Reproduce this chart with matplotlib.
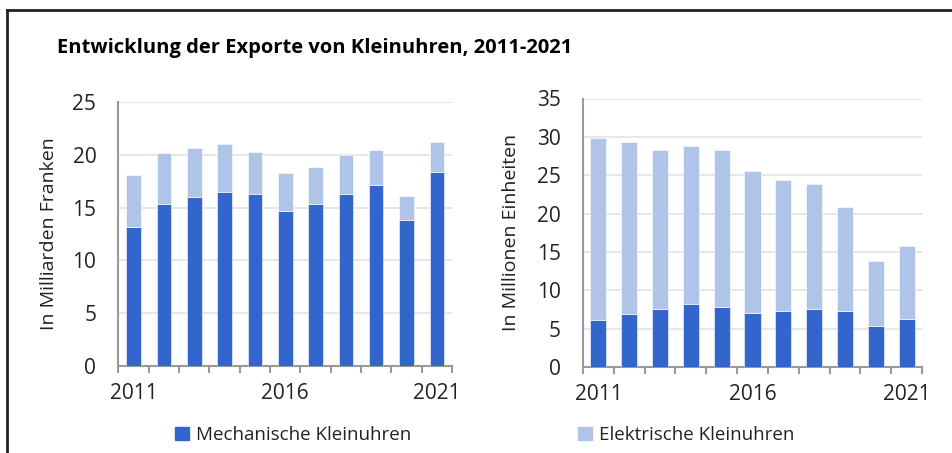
import matplotlib.pyplot as plt
from matplotlib.lines import Line2D
from matplotlib.patches import Patch
import numpy as np

plt.rcParams['font.family'] = ['Open Sans', 'DejaVu Sans']

years = [2011, 2012, 2013, 2014, 2015, 2016, 2017, 2018, 2019, 2020, 2021]
tick_years = ['2011', '2016', '2021']

# Exporte in Milliarden Franken
wert_mech = [13.2, 15.3, 16.0, 16.5, 16.3, 14.7, 15.3, 16.3, 17.1, 13.8, 18.4]
wert_total = [18.1, 20.2, 20.6, 21.0, 20.3, 18.3, 18.8, 20.0, 20.5, 16.1, 21.2]

# Exporte in Millionen Einheiten
stk_mech = [6.1, 6.9, 7.5, 8.2, 7.8, 7.0, 7.3, 7.5, 7.3, 5.4, 6.3]
stk_total = [29.9, 29.3, 28.3, 28.8, 28.3, 25.5, 24.4, 23.9, 20.8, 13.8, 15.8]

wert_elek = [t - m for t, m in zip(wert_total, wert_mech)]
stk_elek = [t - m for t, m in zip(stk_total, stk_mech)]

dark = '#3366cc'
light = '#b0c4ea'
grid_col = '#e3e3e3'
axis_col = '#999999'
txt_col = '#222222'

fig = plt.figure(figsize=(9.53, 4.53), dpi=100)

# Rahmen links und oben
fig.add_artist(Line2D([7.5 / 953, 7.5 / 953], [0, 1 - 10 / 453], color=txt_col, lw=2))
fig.add_artist(Line2D([7.5 / 953, 1], [1 - 10 / 453, 1 - 10 / 453], color=txt_col, lw=2))

fig.text(57 / 953, 1 - 48 / 453, 'Entwicklung der Exporte von Kleinuhren, 2011-2021',
         fontsize=14.5, fontweight='bold', va='center', ha='left', color='black')


def draw(ax, mech, elek, ymax, ystep, ylabel, width, labelpad):
    x = np.arange(len(years))
    ax.bar(x, mech, width=width, color=dark, edgecolor='white', linewidth=0.4, zorder=3)
    ax.bar(x, elek, bottom=mech, width=width, color=light, edgecolor='white', linewidth=0.4, zorder=3)
    ax.set_xlim(-0.5, len(years) - 0.5)
    ax.set_ylim(0, ymax)
    ax.set_yticks(np.arange(0, ymax + 0.1, ystep))
    ax.yaxis.grid(True, color=grid_col, lw=1.2, zorder=0)
    ax.set_axisbelow(True)
    for s in ['top', 'right']:
        ax.spines[s].set_visible(False)
    for s in ['left', 'bottom']:
        ax.spines[s].set_color(axis_col)
        ax.spines[s].set_linewidth(1.5)
    ax.set_xticks(np.arange(-0.5, len(years), 1.0))
    ax.set_xticklabels([])
    ax.tick_params(axis='x', which='major', length=5, width=1.5, color=axis_col, direction='out')
    ax.set_xticks([0, 5, 10], minor=True)
    ax.set_xticklabels(tick_years, minor=True)
    ax.tick_params(axis='x', which='minor', length=0, pad=12, labelsize=15, labelcolor=txt_col)
    ax.tick_params(axis='y', length=0, labelsize=15, labelcolor=txt_col, pad=16)
    ax.set_ylabel(ylabel, fontsize=14, color=txt_col, labelpad=labelpad)


ax1 = fig.add_axes([118.5 / 953, 1 - 366 / 453, (452 - 118.5) / 953, (366 - 102) / 453])
draw(ax1, wert_mech, wert_elek, 25, 5, 'In Milliarden Franken', 0.48, 10)

ax2 = fig.add_axes([583 / 953, 1 - 367 / 453, (922 - 583) / 953, (367 - 98.5) / 453])
draw(ax2, stk_mech, stk_elek, 35, 5, 'In Millionen Einheiten', 0.52, 12)

leg_kw = dict(frameon=False, fontsize=13.5, handlelength=0.75, handleheight=0.75,
              handletextpad=0.35, borderpad=0, borderaxespad=0, labelcolor=txt_col,
              loc='center left')
fig.legend(handles=[Patch(color=dark, label='Mechanische Kleinuhren')],
           bbox_to_anchor=(175 / 953, 1 - 435 / 453), **leg_kw)
fig.legend(handles=[Patch(color=light, label='Elektrische Kleinuhren')],
           bbox_to_anchor=(578 / 953, 1 - 435 / 453), **leg_kw)

fig.savefig('out.png', dpi=100)
